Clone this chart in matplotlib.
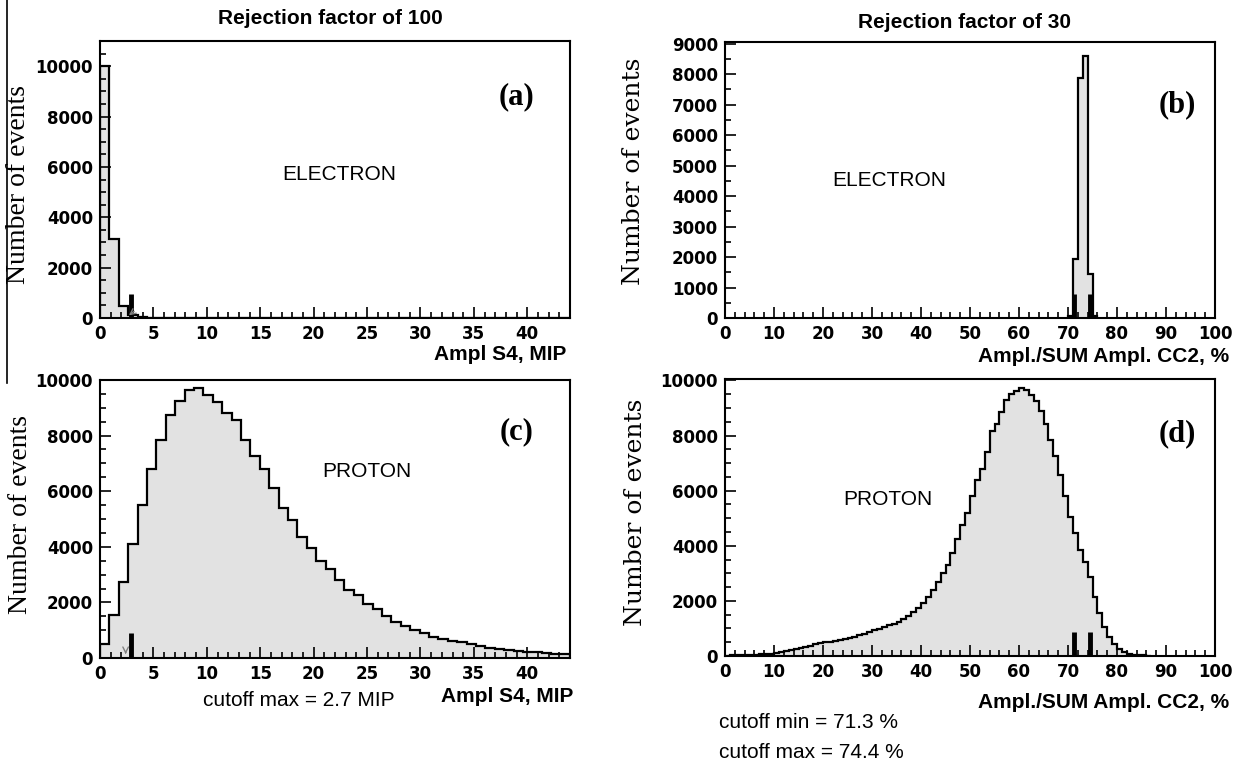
import numpy as np
import matplotlib.pyplot as plt
from matplotlib.ticker import MultipleLocator
from matplotlib.lines import Line2D

plt.rcParams['font.family'] = 'DejaVu Sans'
plt.rcParams['font.weight'] = 'bold'

# --- data ---
# S4 amplitude histograms (a) and (c): 50 bins over 0..44 MIP
s4_edges = np.linspace(0, 44, 51)
s4_electron = [10000, 3150, 460, 100, 30, 0, 0, 0, 0, 0,
               0, 0, 0, 0, 0, 0, 0, 0, 0, 0,
               0, 0, 0, 0, 0, 0, 0, 0, 0, 0,
               0, 0, 0, 0, 0, 0, 0, 0, 0, 0,
               0, 0, 0, 0, 0, 0, 0, 0, 0, 0]
s4_proton = [510, 1550, 2750, 4100, 5500, 6800, 7850, 8750, 9250, 9650,
             9700, 9450, 9200, 8800, 8550, 7850, 7250, 6800, 6100, 5400,
             4950, 4350, 3950, 3500, 3200, 2800, 2450, 2250, 1950, 1750,
             1500, 1300, 1150, 1000, 900, 750, 680, 620, 560, 500,
             440, 350, 320, 270, 240, 220, 200, 170, 150, 150]
s4_cut = 2.9           # marker position as drawn
s4_cut_text = "cutoff max = 2.7 MIP"

# CC2 ratio histograms (b) and (d): 1 % bins
cc2_el_edges = [70, 71, 72, 73, 74, 75, 76]
cc2_electron = [60, 1930, 7870, 8600, 1450, 80]
cc2_proton = [10, 20, 30, 30, 40, 40, 50, 60, 70, 80,
              100, 130, 170, 210, 260, 300, 340, 380, 420, 460,
              490, 520, 550, 590, 620, 660, 700, 750, 800, 860,
              930, 990, 1050, 1110, 1170, 1250, 1340, 1440, 1580, 1750,
              1920, 2150, 2400, 2700, 3000, 3300, 3750, 4250, 4750, 5200,
              5800, 6400, 6800, 7400, 8150, 8400, 8850, 9300, 9500, 9600,
              9720, 9650, 9480, 9250, 8900, 8400, 7850, 7250, 6550, 5800,
              5050, 4450, 3850, 3400, 2850, 2150, 1550, 1050, 700, 420,
              240, 150, 90, 50, 30, 20, 10]
cc2_pr_edges = np.arange(len(cc2_proton) + 1)
cc2_cuts = [71.3, 74.4]

W, H = 1242, 765
fig = plt.figure(figsize=(W / 100, H / 100), dpi=100)
fill_col = '#e2e2e2'


def px_axes(l, t, r, b):
    return fig.add_axes([l / W, 1 - b / H, (r - l) / W, (b - t) / H])


def ftext(x, y, s, **kw):
    fig.text(x / W, 1 - y / H, s, **kw)


def style(ax, xlim, ylim, xmaj, xmin, ymaj, ymin):
    ax.set_xlim(*xlim)
    ax.set_ylim(*ylim)
    ax.xaxis.set_major_locator(MultipleLocator(xmaj))
    ax.xaxis.set_minor_locator(MultipleLocator(xmin))
    ax.yaxis.set_major_locator(MultipleLocator(ymaj))
    ax.yaxis.set_minor_locator(MultipleLocator(ymin))
    ax.tick_params(which='both', direction='in', width=1.2, labelsize=12,
                   top=False, right=False)
    ax.tick_params(which='major', length=8, pad=5)
    ax.tick_params(which='minor', length=4)
    for sp in ax.spines.values():
        sp.set_linewidth(1.5)


def hist(ax, edges, vals):
    ax.stairs(vals, edges, fill=True, color=fill_col, lw=0)
    ax.stairs(vals, edges, color='black', lw=1.6)


def marker(ax, x, h):
    ax.plot([x, x], [0, h], color='black', lw=3.5, solid_capstyle='butt')


# (a) electron, S4
ax_a = px_axes(100, 41, 570, 318)
hist(ax_a, s4_edges, s4_electron)
marker(ax_a, s4_cut, 950)
ax_a.annotate('', xy=(2.5, 40), xytext=(3.4, 330),
              arrowprops=dict(arrowstyle='->', color='gray', lw=1))
style(ax_a, (0, 44), (0, 11000), 5, 1, 2000, 500)
ax_a.text(22.4, 5700, 'ELECTRON', ha='center', va='center', size=15,
          weight='normal', family='Liberation Sans')
ax_a.text(39, 8800, '(a)', ha='center', va='center', size=22,
          weight='bold', family='Liberation Serif')

# (b) electron, CC2
ax_b = px_axes(725, 42, 1215, 318)
hist(ax_b, cc2_el_edges, cc2_electron)
for c in cc2_cuts:
    marker(ax_b, c, 800)
style(ax_b, (0, 100), (0, 9050), 10, 2, 1000, 500)
ax_b.text(33.5, 4500, 'ELECTRON', ha='center', va='center', size=15,
          weight='normal', family='Liberation Sans')
ax_b.text(92.4, 7000, '(b)', ha='center', va='center', size=22,
          weight='bold', family='Liberation Serif')

# (c) proton, S4
ax_c = px_axes(100, 380, 570, 658)
hist(ax_c, s4_edges, s4_proton)
marker(ax_c, s4_cut, 900)
ax_c.annotate('', xy=(2.4, 40), xytext=(2.4, 330),
              arrowprops=dict(arrowstyle='->', color='gray', lw=1))
style(ax_c, (0, 44), (0, 10000), 5, 1, 2000, 500)
ax_c.text(25, 6700, 'PROTON', ha='center', va='center', size=15,
          weight='normal', family='Liberation Sans')
ax_c.text(39, 8150, '(c)', ha='center', va='center', size=22,
          weight='bold', family='Liberation Serif')

# (d) proton, CC2
ax_d = px_axes(725, 379, 1215, 656)
hist(ax_d, cc2_pr_edges, cc2_proton)
for c in cc2_cuts:
    marker(ax_d, c, 880)
style(ax_d, (0, 100), (0, 10050), 10, 2, 2000, 500)
ax_d.text(33.3, 5660, 'PROTON', ha='center', va='center', size=15,
          weight='normal', family='Liberation Sans')
ax_d.text(92.4, 8050, '(d)', ha='center', va='center', size=22,
          weight='bold', family='Liberation Serif')

# titles
ftext(330, 18, 'Rejection factor of 100', ha='center', va='center', size=15,
      weight='bold', family='Liberation Sans')
ftext(964, 23, 'Rejection factor of 30', ha='center', va='center', size=15,
      weight='bold', family='Liberation Sans')

# x labels
ftext(566, 355, 'Ampl S4, MIP', ha='right', va='center', size=15,
      weight='bold', family='Liberation Sans')
ftext(573, 696, 'Ampl S4, MIP', ha='right', va='center', size=15,
      weight='bold', family='Liberation Sans')
ftext(1229, 357, 'Ampl./SUM Ampl. CC2, %', ha='right', va='center', size=15,
      weight='bold', family='Liberation Sans')
ftext(1229, 702, 'Ampl./SUM Ampl. CC2, %', ha='right', va='center', size=15,
      weight='bold', family='Liberation Sans')

# cutoff notes
ftext(203, 700, s4_cut_text, ha='left', va='center', size=15,
      weight='normal', family='Liberation Sans')
ftext(719, 723, 'cutoff min = %.1f %%' % cc2_cuts[0], ha='left', va='center',
      size=15, weight='normal', family='Liberation Sans')
ftext(719, 752, 'cutoff max = %.1f %%' % cc2_cuts[1], ha='left', va='center',
      size=15, weight='normal', family='Liberation Sans')

# y labels
ftext(19, 184, 'Number of events', rotation=90, ha='center', va='center',
      size=20, weight='normal', family='Liberation Serif')
ftext(21, 514, 'Number of events', rotation=90, ha='center', va='center',
      size=20, weight='normal', family='Liberation Serif')
ftext(633, 171, 'Number of events', rotation=90, ha='center', va='center',
      size=18, weight='normal', family='DejaVu Serif')
ftext(635, 512, 'Number of events', rotation=90, ha='center', va='center',
      size=18, weight='normal', family='DejaVu Serif')

# stray crop line on the left edge
fig.add_artist(Line2D([7 / W, 7 / W], [1, 1 - 383 / H], color='black', lw=1.2))

fig.savefig('out.png', dpi=100)
